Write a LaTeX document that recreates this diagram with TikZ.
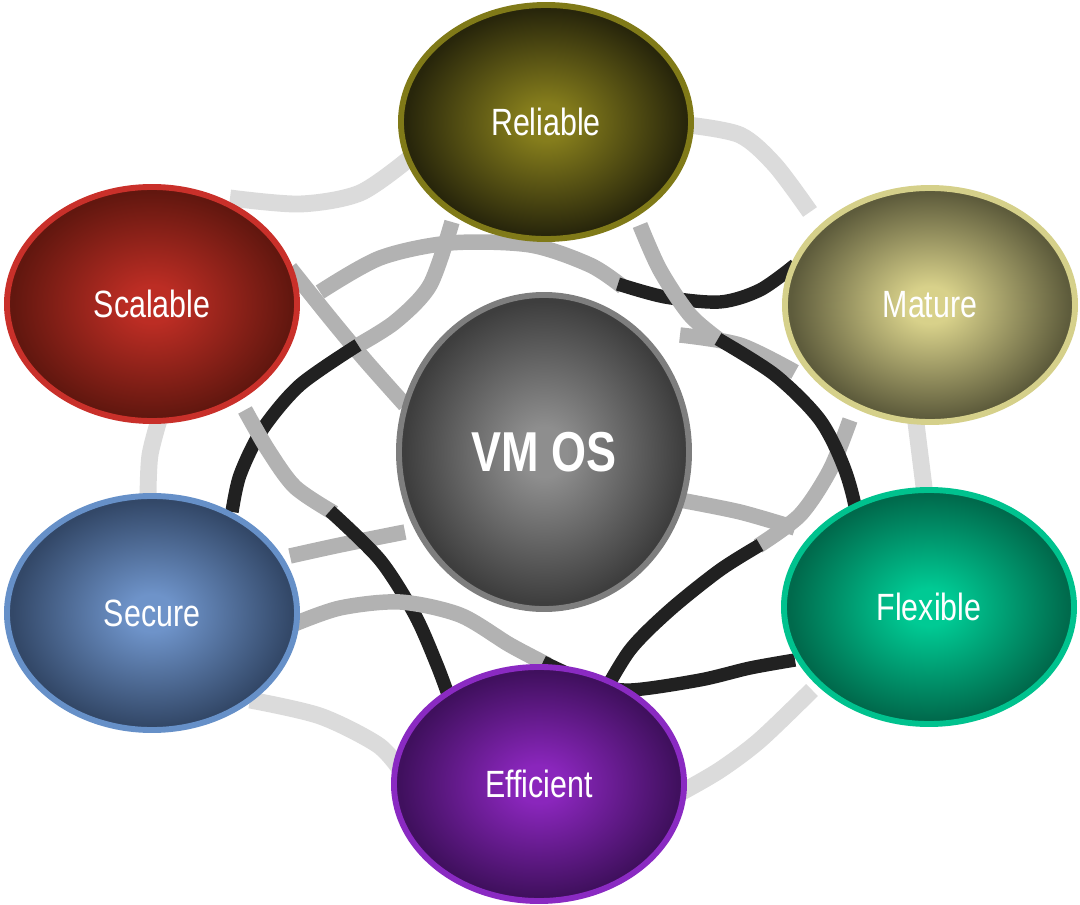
\documentclass[tikz,border=0pt]{standalone}
\usepackage{fontspec}
\setmainfont{Liberation Sans}[FakeStretch=0.8]
\usetikzlibrary{shapes.geometric}

\definecolor{relline}{HTML}{807A18}\definecolor{relin}{HTML}{857D1C}\definecolor{relout}{HTML}{28260B}
\definecolor{scaline}{HTML}{C9302A}\definecolor{scain}{HTML}{BC2D24}\definecolor{scaout}{HTML}{62170F}
\definecolor{matline}{HTML}{D5D08A}\definecolor{matin}{HTML}{D8D18A}\definecolor{matout}{HTML}{5E5C3C}
\definecolor{secline}{HTML}{6690C8}\definecolor{secin}{HTML}{6E93C9}\definecolor{secout}{HTML}{334868}
\definecolor{effline}{HTML}{8A2AC2}\definecolor{effin}{HTML}{8A26BC}\definecolor{effout}{HTML}{40105E}
\definecolor{flexline}{HTML}{00C28E}\definecolor{flexin}{HTML}{00CA94}\definecolor{flexout}{HTML}{006A4C}
\definecolor{osline}{HTML}{7E7E7E}\definecolor{osin}{HTML}{8E8E8E}\definecolor{osout}{HTML}{3E3E3E}
\colorlet{glowin}{white}
\colorlet{glowout}{black}
\pgfdeclareradialshading[glowin,glowout]{softglow}{\pgfpointorigin}{color(0bp)=(glowin);color(4bp)=(glowin);color(24bp)=(glowout);color(50bp)=(glowout)}

\tikzset{
  bubble/.style={ellipse, inner sep=0pt, minimum width=7.25cm, minimum height=5.85cm,
    line width=4.2pt, text=white, font=\fontsize{27}{30}\selectfont},
  glow/.style n args={3}{draw=#1, /utils/exec={\colorlet{glowin}{#2}\colorlet{glowout}{#3}}, shade, shading=softglow},
  darkband/.style={draw=black!87, line width=9.5pt},
  greyband/.style={draw=black!30, line width=11pt},
  paleband/.style={draw=black!14, line width=12pt}
}

\begin{document}
\begin{tikzpicture}[x=0.025cm, y=-0.025cm]
\useasboundingbox (0,0) rectangle (1080,905);

\draw[paleband] plot[smooth] coordinates {(230,198) (300,204) (360,193) (410,158)};
\draw[paleband] plot[smooth] coordinates {(162,410) (150,455) (148,500)};
\draw[paleband] plot[smooth] coordinates {(915,415) (920,455) (925,495)};
\draw[paleband] plot[smooth] coordinates {(688,125) (740,135) (775,165) (810,212)};
\draw[paleband] plot[smooth] coordinates {(250,700) (320,716) (378,745) (402,772)};
\draw[paleband] plot[smooth] coordinates {(812,690) (760,740) (720,770) (682,792)};

\draw[greyband] plot[smooth] coordinates {(290,268) (330,318) (365,360) (405,405)};
\draw[greyband] plot[smooth] coordinates {(290,556) (340,545) (405,532)};
\draw[greyband] plot[smooth] coordinates {(680,335) (740,345) (795,372)};
\draw[greyband] plot[smooth] coordinates {(680,500) (740,512) (795,528)};

\draw[greyband] plot[smooth] coordinates {(452,222) (430,285) (395,322) (355,347)};
\draw[darkband] plot[smooth] coordinates {(358,345) (300,385) (262,430) (240,475) (232,512)};
\draw[greyband] plot[smooth] coordinates {(245,410) (268,450) (295,487) (334,513)};
\draw[darkband] plot[smooth] coordinates {(330,511) (380,560) (415,615) (437,665) (450,700)};
\draw[greyband] plot[smooth] coordinates {(292,625) (340,608) (400,602) (460,615) (510,645) (548,665)};
\draw[darkband] plot[smooth] coordinates {(543,662) (590,683) (630,690) (700,680) (750,668) (795,660)};
\draw[greyband] plot[smooth] coordinates {(758,546) (800,515) (830,470) (850,420)};
\draw[darkband] plot[smooth] coordinates {(600,700) (630,650) (670,610) (720,570) (760,545)};
\draw[greyband] plot[smooth] coordinates {(320,292) (380,258) (450,243) (530,245) (590,265) (623,287)};
\draw[darkband] plot[smooth] coordinates {(618,284) (665,297) (720,302) (760,290) (795,265)};
\draw[greyband] plot[smooth] coordinates {(640,225) (660,270) (690,315) (722,342)};
\draw[darkband] plot[smooth] coordinates {(718,339) (775,375) (820,420) (845,470) (857,520) (850,560)};

\node[bubble, glow={relline}{relin}{relout}] (rel) at (546,122) {Reliable};
\node[bubble, glow={scaline}{scain}{scaout}] (scal) at (152,304) {Scalable};
\node[bubble, glow={matline}{matin}{matout}] (mat) at (930,305) {Mature};
\node[bubble, glow={secline}{secin}{secout}] (sec) at (152,613) {Secure};
\node[bubble, glow={flexline}{flexin}{flexout}] (flex) at (929,607) {Flexible};
\node[bubble, glow={effline}{effin}{effout}] (eff) at (539,784) {Efficient};
\node[bubble, glow={osline}{osin}{osout}, minimum height=7.85cm,
  font=\fontsize{40}{44}\selectfont\bfseries] (vmos) at (544,452) {VM OS};
\end{tikzpicture}
\end{document}
